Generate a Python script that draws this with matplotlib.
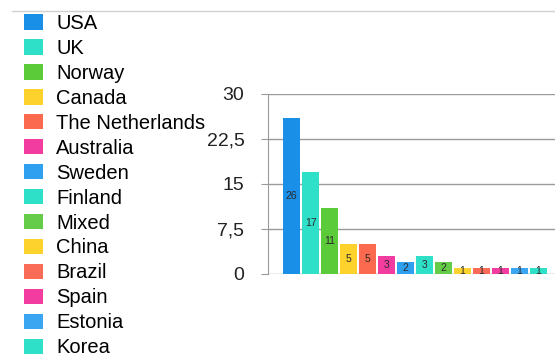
import matplotlib
matplotlib.use("Agg")
import matplotlib.pyplot as plt
from matplotlib.lines import Line2D

plt.rcParams['font.family'] = ['Liberation Sans', 'DejaVu Sans']

countries = ["USA", "UK", "Norway", "Canada", "The Netherlands", "Australia", "Sweden",
             "Finland", "Mixed", "China", "Brazil", "Spain", "Estonia", "Korea"]
counts = [26, 17, 11, 5, 5, 3, 2, 3, 2, 1, 1, 1, 1, 1]
colors = ["#1a8fe8", "#2fe0c8", "#5ccb3a", "#fdd22c", "#fb6a4f", "#f23ca0", "#2f9ff0",
          "#2fe0c8", "#64cc48", "#fdd22c", "#fb6c58", "#f23ca0", "#3aa6f2", "#2fe0c8"]
yticks = [0, 7.5, 15, 22.5, 30]
ytick_labels = ["0", "7,5", "15", "22,5", "30"]

W, H = 555, 356
fig = plt.figure(figsize=(W / 100, H / 100), dpi=100)
ax = fig.add_axes([268 / W, 1 - 274 / H, 1 - 268 / W, 180 / H])

xs = range(len(counts))
bars = ax.bar(xs, counts, width=0.9, color=colors, zorder=3)
for b, v in zip(bars, counts):
    ax.text(b.get_x() + b.get_width() / 2, v / 2, str(v), ha="center", va="center",
            fontsize=7.5, color="#2a2a2a", zorder=4)

ax.set_ylim(0, 30)
ax.set_xlim(-1.24, 13.87)
ax.set_yticks(yticks)
ax.set_yticklabels(ytick_labels, fontsize=14, color="#222222")
ax.set_xticks([])
ax.tick_params(axis="y", length=5, color="#999999", pad=12)
ax.grid(axis="y", color="#9a9a9a", lw=1, zorder=1)
for s in ["top", "right", "bottom"]:
    ax.spines[s].set_visible(False)
ax.spines["left"].set_color("#9a9a9a")

# thin line at the top of the panel
fig.add_artist(Line2D([12 / W, 1], [1 - 11 / H, 1 - 11 / H], color="#d0d0d0", lw=1))

fig.legend(bars, countries, loc="upper left", bbox_to_anchor=(24 / W, 1 - 14 / H),
           frameon=False, fontsize=14.5, handlelength=0.95, handleheight=0.8,
           handletextpad=0.65, labelspacing=0.295, borderpad=0, borderaxespad=0)

fig.savefig("out.png", dpi=100)
